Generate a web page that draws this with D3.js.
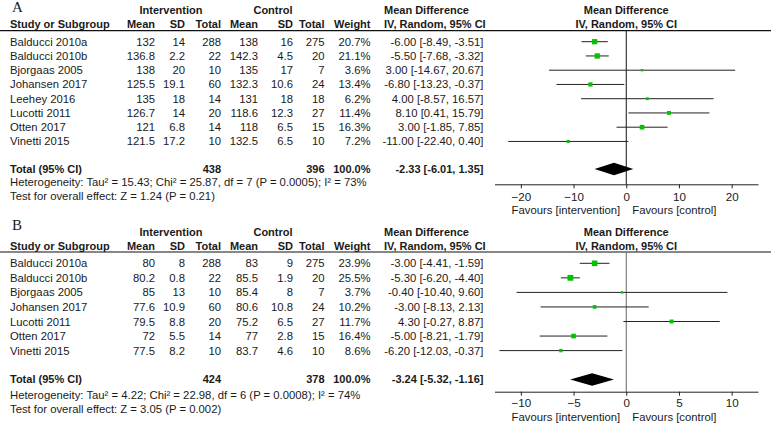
<!DOCTYPE html>
<html>
<head>
<meta charset="utf-8">
<script src="https://cdn.jsdelivr.net/npm/d3@7"></script>
<style>
  html, body { margin: 0; padding: 0; background: #fff; }
  svg { display: block; }
</style>
</head>
<body>
<svg id="chart" width="771" height="425"></svg>
<script>
// ---------------- DATA ----------------
const studiesA = ["Balducci 2010a","Balducci 2010b","Bjorgaas 2005","Johansen 2017","Leehey 2016","Lucotti 2011","Otten 2017","Vinetti 2015"];
const intMeanA = ["132","136.8","138","125.5","135","126.7","121","121.5"];
const intSDA   = ["14","2.2","20","19.1","18","14","6.8","17.2"];
const intNA    = [288,22,10,60,14,20,14,10];
const ctlMeanA = ["138","142.3","135","132.3","131","118.6","118","132.5"];
const ctlSDA   = ["16","4.5","17","10.6","18","12.3","6.5","6.5"];
const ctlNA    = [275,20,7,24,18,27,15,10];
const weightA  = [20.7,21.1,3.6,13.4,6.2,11.4,16.3,7.2];
const mdA      = [-6.00,-5.50,3.00,-6.80,4.00,8.10,3.00,-11.00];
const loA      = [-8.49,-7.68,-14.67,-13.23,-8.57,0.41,-1.85,-22.40];
const hiA      = [-3.51,-3.32,20.67,-0.37,16.57,15.79,7.85,0.40];
const totalA   = {intN:438, ctlN:396, md:-2.33, lo:-6.01, hi:1.35};
const hetA     = "Heterogeneity: Tau\u00b2 = 15.43; Chi\u00b2 = 25.87, df = 7 (P = 0.0005); I\u00b2 = 73%";
const testA    = "Test for overall effect: Z = 1.24 (P = 0.21)";
const ticksA   = [-20,-10,0,10,20];
const domainA  = [-25,25];

const studiesB = ["Balducci 2010a","Balducci 2010b","Bjorgaas 2005","Johansen 2017","Lucotti 2011","Otten 2017","Vinetti 2015"];
const intMeanB = ["80","80.2","85","77.6","79.5","72","77.5"];
const intSDB   = ["8","0.8","13","10.9","8.8","5.5","8.2"];
const intNB    = [288,22,10,60,20,14,10];
const ctlMeanB = ["83","85.5","85.4","80.6","75.2","77","83.7"];
const ctlSDB   = ["9","1.9","8","10.8","6.5","2.8","4.6"];
const ctlNB    = [275,20,7,24,27,15,10];
const weightB  = [23.9,25.5,3.7,10.2,11.7,16.4,8.6];
const mdB      = [-3.00,-5.30,-0.40,-3.00,4.30,-5.00,-6.20];
const loB      = [-4.41,-6.20,-10.40,-8.13,-0.27,-8.21,-12.03];
const hiB      = [-1.59,-4.40,9.60,2.13,8.87,-1.79,-0.37];
const totalB   = {intN:424, ctlN:378, md:-3.24, lo:-5.32, hi:-1.16};
const hetB     = "Heterogeneity: Tau\u00b2 = 4.22; Chi\u00b2 = 22.98, df = 6 (P = 0.0008); I\u00b2 = 74%";
const testB    = "Test for overall effect: Z = 3.05 (P = 0.002)";
const ticksB   = [-10,-5,0,5,10];
const domainB  = [-12.5,12.5];

// ---------------- LAYOUT ----------------
const svg = d3.select("#chart");
const FONT = "'Liberation Sans', Arial, Helvetica, sans-serif";
const TXT = "#1a1a1a";
const colRight = [155, 185, 221, 258, 293, 324.5, 370.5];
const mdRight = 483.5;
const mdLeft = 384;
const plotRange = [494.5, 758];

function fmt(v){ return v.toFixed(2); }
function ci(md, lo, hi){ return fmt(md) + " [" + fmt(lo) + ", " + fmt(hi) + "]"; }

function drawPanel(p) {
  const g = svg.append("g");
  const x = d3.scaleLinear().domain(p.domain).range(plotRange);
  const text = (tx, ty, s, opts={}) => g.append("text")
      .attr("x", tx).attr("y", ty)
      .attr("font-family", FONT)
      .attr("font-size", opts.size || (opts.bold ? 11 : 11.3))
      .attr("font-weight", opts.bold ? "bold" : "normal")
      .attr("text-anchor", opts.anchor || "start")
      .attr("fill", TXT)
      .text(s);

  // panel letter
  g.append("text").attr("x", 12).attr("y", p.letterY)
    .attr("font-family", "'Liberation Serif', 'Times New Roman', serif")
    .attr("font-size", 15).attr("fill", TXT).text(p.letter);

  // header row 1
  const h1 = p.headY1, h2 = p.headY2;
  text(171, h1, "Intervention", {bold:true, anchor:"middle"});
  text(273, h1, "Control", {bold:true, anchor:"middle"});
  text(mdLeft, h1, "Mean Difference", {bold:true});
  text(x(0), h1, "Mean Difference", {bold:true, anchor:"middle"});
  // header row 2
  text(10, h2, "Study or Subgroup", {bold:true});
  const heads = ["Mean","SD","Total","Mean","SD","Total","Weight"];
  heads.forEach((h,i) => text(colRight[i], h2, h, {bold:true, anchor:"end"}));
  text(mdLeft, h2, "IV, Random, 95% CI", {bold:true});
  text(x(0), h2, "IV, Random, 95% CI", {bold:true, anchor:"middle"});
  // header rule
  g.append("line").attr("x1", 0).attr("x2", 771)
    .attr("y1", p.ruleY).attr("y2", p.ruleY)
    .attr("stroke", "#111").attr("stroke-width", 1.2);

  const rowY = i => p.row0 + i * p.step;

  // zero line
  g.append("line").attr("x1", x(0)).attr("x2", x(0))
    .attr("y1", p.ruleY).attr("y2", p.axisY)
    .attr("stroke", p.zeroColor).attr("stroke-width", 1);

  // study rows
  p.studies.forEach((s, i) => {
    const y = rowY(i) + 4;
    text(10, y, s);
    const vals = [p.intMean[i], p.intSD[i], p.intN[i], p.ctlMean[i], p.ctlSD[i], p.ctlN[i], p.weight[i].toFixed(1) + "%"];
    vals.forEach((v, j) => text(colRight[j], y, v, {anchor:"end"}));
    text(mdRight, y, ci(p.md[i], p.lo[i], p.hi[i]), {anchor:"end"});
  });

  // CI lines
  g.selectAll("line.ci").data(p.studies).enter().append("line")
    .attr("class", "ci")
    .attr("x1", (d,i) => x(p.lo[i])).attr("x2", (d,i) => x(p.hi[i]))
    .attr("y1", (d,i) => rowY(i)).attr("y2", (d,i) => rowY(i))
    .attr("stroke", "#222").attr("stroke-width", 1);
  // squares
  const side = w => Math.max(2.4, 1.15 * Math.sqrt(w));
  g.selectAll("rect.sq").data(p.studies).enter().append("rect")
    .attr("class", "sq")
    .attr("x", (d,i) => x(p.md[i]) - side(p.weight[i]) / 2)
    .attr("y", (d,i) => rowY(i) - side(p.weight[i]) / 2)
    .attr("width", (d,i) => side(p.weight[i]))
    .attr("height", (d,i) => side(p.weight[i]))
    .attr("fill", "#00c400");

  // total row
  const ty = p.totalY + 4;
  text(10, ty, "Total (95% CI)", {bold:true});
  text(colRight[2], ty, p.total.intN, {bold:true, anchor:"end"});
  text(colRight[5], ty, p.total.ctlN, {bold:true, anchor:"end"});
  text(colRight[6], ty, "100.0%", {bold:true, anchor:"end"});
  text(mdRight, ty, ci(p.total.md, p.total.lo, p.total.hi), {bold:true, anchor:"end"});
  const dy = p.totalY + 0.5, hh = 6.3;
  g.append("path")
    .attr("d", `M${x(p.total.lo)},${dy} L${x(p.total.md)},${dy - hh} L${x(p.total.hi)},${dy} L${x(p.total.md)},${dy + hh} Z`)
    .attr("fill", "#000");

  text(10, p.hetY + 4, p.het);
  text(10, p.testY + 4, p.test);

  // axis
  const axis = d3.axisBottom(x).tickValues(p.ticks).tickSize(4).tickSizeOuter(0)
    .tickFormat(d3.format("d"));
  const ag = g.append("g").attr("transform", `translate(0,${p.axisY})`).call(axis);
  ag.select(".domain").attr("stroke", "#222").attr("stroke-width", 1);
  ag.selectAll(".tick line").attr("stroke", "#222");
  ag.selectAll(".tick text")
    .attr("font-family", FONT).attr("font-size", 11.6).attr("fill", TXT)
    .attr("dy", null).attr("y", p.tickLabelDy);
  text(x(0) - 6, p.axisY + p.favDy, "Favours [intervention]");
  g.selectAll("text").filter(function(){ return d3.select(this).text() === "Favours [intervention]"; })
    .attr("text-anchor", "end");
  text(x(0) + 6, p.axisY + p.favDy, "Favours [control]");
}

drawPanel({
  letter: "A", letterY: 12, headY1: 13.5, headY2: 28.3, ruleY: 30.7,
  row0: 41.7, step: 14.25, totalY: 168.5, hetY: 182, testY: 196,
  axisY: 184.3, tickLabelDy: 17, favDy: 30, zeroColor: "#111",
  studies: studiesA, intMean: intMeanA, intSD: intSDA, intN: intNA,
  ctlMean: ctlMeanA, ctlSD: ctlSDA, ctlN: ctlNA, weight: weightA,
  md: mdA, lo: loA, hi: hiA, total: totalA, het: hetA, test: testA,
  ticks: ticksA, domain: domainA
});

drawPanel({
  letter: "B", letterY: 230, headY1: 236, headY2: 250.3, ruleY: 252,
  row0: 263.3, step: 14.55, totalY: 379, hetY: 394.5, testY: 409,
  axisY: 391.7, tickLabelDy: 15.5, favDy: 29.3, zeroColor: "#666",
  studies: studiesB, intMean: intMeanB, intSD: intSDB, intN: intNB,
  ctlMean: ctlMeanB, ctlSD: ctlSDB, ctlN: ctlNB, weight: weightB,
  md: mdB, lo: loB, hi: hiB, total: totalB, het: hetB, test: testB,
  ticks: ticksB, domain: domainB
});
</script>
</body>
</html>
